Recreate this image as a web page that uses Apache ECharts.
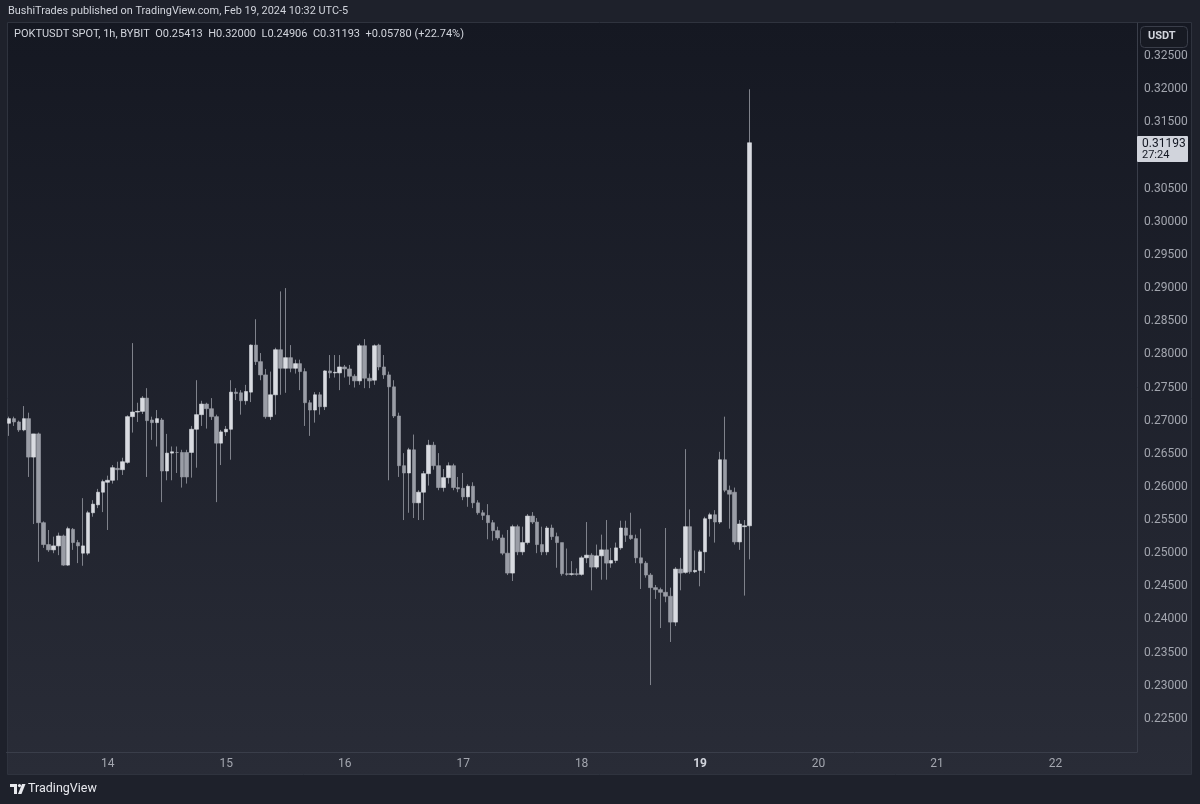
<!DOCTYPE html>
<html><head><meta charset="utf-8">
<script src="https://cdn.jsdelivr.net/npm/echarts@6/dist/echarts.min.js"></script>
<style>html,body{margin:0;padding:0;background:#1e212b;}#c{width:1200px;height:804px;}</style>
</head><body><div id="c"></div><script>
// ---- data ----
const startUTC = Date.UTC(2024, 1, 13, 4);   // first candle: Feb 13 04:00
const hourSlots = 229;                          // hourly slots shown on the axis
const dayTickLabels = ['14','15','16','17','18','19','20','21','22'];
const currentDay = '19';
const openP = [0.2696,0.2703,0.2698,0.2686,0.2703,0.2645,0.2680,0.2546,0.2513,0.2505,
0.2511,0.2526,0.2482,0.2536,0.2516,0.2500,0.2500,0.2561,0.2573,0.2592,
0.2607,0.2610,0.2628,0.2626,0.2637,0.2706,0.2713,0.2714,0.2734,0.2701,
0.2697,0.2701,0.2624,0.2651,0.2652,0.2652,0.2652,0.2652,0.2687,0.2709,
0.2725,0.2718,0.2706,0.2666,0.2683,0.2687,0.2743,0.2742,0.2730,0.2743,
0.2814,0.2789,0.2769,0.2706,0.2739,0.2807,0.2779,0.2795,0.2779,0.2786,
0.2774,0.2727,0.2716,0.2739,0.2721,0.2775,0.2772,0.2772,0.2781,0.2778,
0.2767,0.2760,0.2813,0.2764,0.2761,0.2814,0.2781,0.2769,0.2751,0.2707,
0.2632,0.2621,0.2656,0.2576,0.2592,0.2620,0.2663,0.2632,0.2599,0.2614,
0.2632,0.2599,0.2598,0.2585,0.2601,0.2576,0.2561,0.2557,0.2546,0.2534,
0.2523,0.2500,0.2470,0.2540,0.2502,0.2516,0.2556,0.2547,0.2513,0.2502,
0.2538,0.2525,0.2516,0.2469,0.2468,0.2469,0.2468,0.2493,0.2497,0.2479,
0.2496,0.2505,0.2485,0.2489,0.2508,0.2538,0.2527,0.2522,0.2493,0.2485,
0.2467,0.2448,0.2445,0.2441,0.2435,0.2396,0.2476,0.2471,0.2540,0.2472,
0.2474,0.2502,0.2552,0.2558,0.2547,0.2641,0.2595,0.2592,0.2517,0.2540,
0.25413];
const closeP = [0.2703,0.2698,0.2686,0.2703,0.2645,0.2680,0.2546,0.2513,0.2505,0.2511,
0.2526,0.2482,0.2537,0.2516,0.2511,0.2511,0.2561,0.2574,0.2592,0.2608,
0.2610,0.2629,0.2626,0.2638,0.2706,0.2713,0.2714,0.2734,0.2700,0.2697,
0.2703,0.2624,0.2651,0.2653,0.2652,0.2615,0.2615,0.2687,0.2709,0.2725,
0.2718,0.2706,0.2666,0.2683,0.2687,0.2743,0.2741,0.2730,0.2744,0.2814,
0.2789,0.2769,0.2706,0.2739,0.2807,0.2779,0.2795,0.2779,0.2786,0.2774,
0.2727,0.2716,0.2739,0.2721,0.2775,0.2772,0.2773,0.2781,0.2778,0.2767,
0.2760,0.2813,0.2764,0.2760,0.2813,0.2781,0.2769,0.2751,0.2707,0.2632,
0.2621,0.2656,0.2576,0.2592,0.2620,0.2663,0.2632,0.2599,0.2614,0.2632,
0.2599,0.2597,0.2585,0.2601,0.2576,0.2561,0.2557,0.2546,0.2534,0.2523,
0.2500,0.2470,0.2540,0.2502,0.2516,0.2556,0.2547,0.2513,0.2502,0.2538,
0.2525,0.2516,0.2469,0.2468,0.2469,0.2468,0.2493,0.2497,0.2479,0.2496,
0.2505,0.2485,0.2489,0.2508,0.2538,0.2527,0.2522,0.2493,0.2485,0.2467,
0.2448,0.2445,0.2441,0.2435,0.2396,0.2476,0.2470,0.2540,0.2472,0.2474,
0.2502,0.2552,0.2558,0.2547,0.2641,0.2595,0.2589,0.2517,0.2544,0.25413,
0.31193];
const lowP = [0.2677,0.2692,0.2683,0.2684,0.2615,0.2544,0.2487,0.2508,0.2502,0.2500,
0.2497,0.2481,0.2481,0.2505,0.2485,0.2481,0.2497,0.2555,0.2568,0.2562,
0.2535,0.2605,0.2610,0.2618,0.2635,0.2682,0.2698,0.2710,0.2615,0.2671,
0.2661,0.2577,0.2610,0.2610,0.2621,0.2599,0.2605,0.2614,0.2629,0.2692,
0.2688,0.2701,0.2577,0.2633,0.2677,0.2641,0.2731,0.2709,0.2724,0.2728,
0.2784,0.2761,0.2703,0.2701,0.2709,0.2739,0.2742,0.2773,0.2771,0.2746,
0.2692,0.2677,0.2697,0.2709,0.2716,0.2764,0.2765,0.2746,0.2765,0.2754,
0.2750,0.2754,0.2749,0.2749,0.2754,0.2776,0.2763,0.2610,0.2704,0.2615,
0.2550,0.2561,0.2553,0.2550,0.2550,0.2602,0.2626,0.2595,0.2593,0.2605,
0.2595,0.2592,0.2580,0.2570,0.2568,0.2558,0.2550,0.2521,0.2519,0.2520,
0.2497,0.2467,0.2458,0.2497,0.2497,0.2513,0.2544,0.2500,0.2497,0.2497,
0.2520,0.2478,0.2466,0.2466,0.2466,0.2466,0.2466,0.2485,0.2444,0.2476,
0.2460,0.2460,0.2478,0.2485,0.2505,0.2517,0.2520,0.2485,0.2446,0.2463,
0.2301,0.2431,0.2387,0.2426,0.2366,0.2390,0.2444,0.2469,0.2469,0.2470,
0.2450,0.2470,0.2525,0.2516,0.2544,0.2592,0.2537,0.2513,0.2505,0.2436,
0.24906];
const highP = [0.2706,0.2706,0.2700,0.2722,0.2712,0.2680,0.2682,0.2548,0.2535,0.2525,
0.2531,0.2528,0.2540,0.2538,0.2520,0.2583,0.2564,0.2580,0.2597,0.2611,
0.2617,0.2633,0.2638,0.2644,0.2708,0.2817,0.2727,0.2737,0.2749,0.2706,
0.2716,0.2704,0.2680,0.2661,0.2661,0.2656,0.2656,0.2692,0.2761,0.2730,
0.2727,0.2734,0.2709,0.2686,0.2692,0.2761,0.2749,0.2746,0.2754,0.2815,
0.2853,0.2802,0.2778,0.2774,0.2810,0.2895,0.2900,0.2814,0.2792,0.2792,
0.2779,0.2731,0.2743,0.2743,0.2776,0.2799,0.2799,0.2799,0.2784,0.2784,
0.2770,0.2816,0.2823,0.2771,0.2815,0.2816,0.2799,0.2774,0.2761,0.2712,
0.2651,0.2659,0.2679,0.2595,0.2624,0.2671,0.2668,0.2651,0.2627,0.2637,
0.2635,0.2615,0.2621,0.2604,0.2607,0.2580,0.2565,0.2574,0.2550,0.2540,
0.2528,0.2535,0.2543,0.2543,0.2540,0.2559,0.2562,0.2553,0.2540,0.2541,
0.2543,0.2531,0.2507,0.2507,0.2488,0.2477,0.2496,0.2547,0.2500,0.2513,
0.2528,0.2550,0.2508,0.2516,0.2549,0.2549,0.2561,0.2528,0.2537,0.2488,
0.2470,0.2452,0.2448,0.2538,0.2448,0.2479,0.2493,0.2657,0.2566,0.2504,
0.2505,0.2555,0.2561,0.2565,0.2653,0.2706,0.2602,0.2599,0.2550,0.2550,
0.32000];
const priceMin = 0.22, priceMax = 0.33, priceStep = 0.005;
const lastClose = 0.31193, timeLeft = '27:24';
const headerText = 'BushiTrades published on TradingView.com, Feb 19, 2024 10:32 UTC-5';
const legendText = 'POKTUSDT SPOT, 1h, BYBIT  O0.25413  H0.32000  L0.24906  C0.31193  +0.05780 (+22.74%)';

// ---- build ----
const categories = [];
for (let i = 0; i < hourSlots; i++) {
  const d = new Date(startUTC + i * 3600e3);
  categories.push(d.getUTCDate() + ' ' + String(d.getUTCHours()).padStart(2, '0') + ':00');
}
const fullData = openP.map((o, i) => [o, closeP[i], lowP[i], highP[i]]);
const bodyData = openP.map((o, i) => [o, closeP[i], Math.min(o, closeP[i]), Math.max(o, closeP[i])]);

const UP = '#d9dbe1', DOWN = '#9a9da6', WICK = '#7f828b';
const chart = echarts.init(document.getElementById('c'), null, {renderer: 'canvas'});

function graphics(py) {
  const g = [
    {type: 'rect', id: 'panel', z: -10, silent: true, shape: {x: 7.5, y: 22.5, width: 1184, height: 752},
     style: {fill: new echarts.graphic.LinearGradient(0, 0, 0, 1, [{offset: 0, color: '#151822'}, {offset: 1, color: '#292c37'}]),
             stroke: '#2f333e', lineWidth: 1}},
    {type: 'text', id: 'hdr', z: 100, x: 8, y: 6,
     style: {text: headerText, fill: '#d1d4dc', font: '10.9px Roboto'}},
    {type: 'text', id: 'leg', z: 100, x: 14, y: 29,
     style: {text: legendText, fill: '#d1d4dc', font: '11px Roboto'}},
    {type: 'rect', id: 'usdtBox', z: 100, shape: {x: 1140.5, y: 26.5, width: 47, height: 21, r: 4},
     style: {fill: '#171a23', stroke: '#3a3e4a', lineWidth: 1}},
    {type: 'text', id: 'usdt', z: 101, x: 1148, y: 31,
     style: {text: 'USDT', fill: '#d1d4dc', font: 'bold 11px Roboto'}},
    {type: 'group', id: 'logo', z: 100, x: 10, y: 784, children: [
      {type: 'rect', z: 100, shape: {x: 0, y: 0, width: 7, height: 3}, style: {fill: '#e8e9ee'}},
      {type: 'rect', z: 100, shape: {x: 4, y: 0, width: 3, height: 10}, style: {fill: '#e8e9ee'}},
      {type: 'circle', z: 100, shape: {cx: 9.5, cy: 1.6, r: 1.6}, style: {fill: '#e8e9ee'}},
      {type: 'polygon', z: 100, shape: {points: [[12, 0], [15.5, 0], [11.5, 10], [8, 10]]}, style: {fill: '#e8e9ee'}}
    ]},
    {type: 'text', id: 'tvtext', z: 100, x: 28, y: 782,
     style: {text: 'TradingView', fill: '#e8e9ee', font: '12.5px Roboto'}}
  ];
  if (py != null) {
    g.push({type: 'group', id: 'lastLabel', z: 200, x: 1137, y: Math.round(py) - 7, children: [
      {type: 'rect', z: 200, shape: {x: 0, y: 0, width: 51, height: 26, r: 1}, style: {fill: '#d1d4dc'}},
      {type: 'text', z: 201, style: {x: 5, y: 1.5, text: lastClose.toFixed(5), fill: '#131722', font: '12px Roboto'}},
      {type: 'text', z: 201, style: {x: 5, y: 13.5, text: timeLeft, fill: '#131722', font: '11px Roboto'}}
    ]});
  }
  return g;
}

chart.setOption({
  backgroundColor: 'transparent',
  animation: false,
  grid: {left: 6.5, right: 63, top: 23, bottom: 52, containLabel: false},
  xAxis: {
    type: 'category', data: categories, boundaryGap: true,
    axisLine: {show: true, lineStyle: {color: '#3a3e4a', width: 1}},
    axisTick: {show: false},
    splitLine: {show: false},
    axisLabel: {
      interval: (idx, val) => val.endsWith(' 00:00') && dayTickLabels.includes(val.split(' ')[0]),
      formatter: (val) => { const day = val.split(' ')[0]; return day === currentDay ? '{b|' + day + '}' : day; },
      color: '#a3a6af', fontSize: 12, fontFamily: 'Roboto', margin: 6,
      rich: {b: {color: '#d1d4dc', fontWeight: 'bold', fontSize: 12, fontFamily: 'Roboto'}}
    }
  },
  yAxis: {
    type: 'value', position: 'right', min: priceMin, max: priceMax, interval: priceStep, scale: true,
    axisLine: {show: true, lineStyle: {color: '#3a3e4a', width: 1}},
    axisTick: {show: false},
    splitLine: {show: false},
    axisLabel: {
      // the tick label hidden behind the last-price tag is left out, as in the reference
      formatter: (v) => Math.abs(v - lastClose) < 0.003 ? '' : v.toFixed(5),
      showMinLabel: false, showMaxLabel: false,
      color: '#a3a6af', fontSize: 12, fontFamily: 'Roboto', margin: 7
    }
  },
  series: [
    {type: 'candlestick', name: 'wick', data: fullData, barWidth: 1, z: 2,
     itemStyle: {color: WICK, color0: WICK, borderColor: WICK, borderColor0: WICK, borderWidth: 1}},
    {type: 'candlestick', name: 'body', data: bodyData, barWidth: 4, z: 3,
     itemStyle: {color: UP, color0: DOWN, borderColor: UP, borderColor0: DOWN, borderWidth: 0.6}}
  ],
  graphic: graphics(null)
});

// last price label on the price axis, positioned through the axis scale
const py = chart.convertToPixel({yAxisIndex: 0}, lastClose);
chart.setOption({graphic: graphics(py)});
</script></body></html>
